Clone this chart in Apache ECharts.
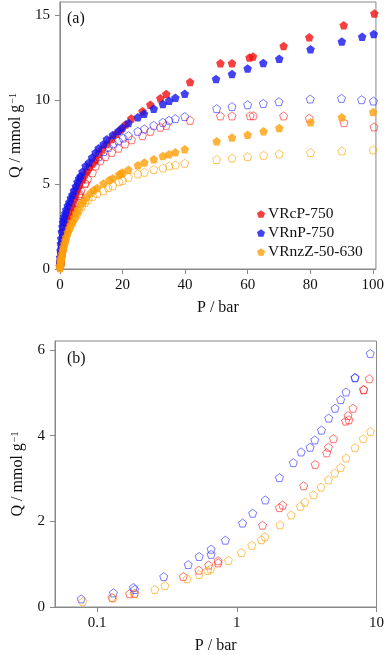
<!DOCTYPE html>
<html>
<head>
<meta charset="utf-8">
<script src="https://cdn.jsdelivr.net/npm/echarts@6/dist/echarts.min.js"></script>
<style>
  html, body { margin: 0; padding: 0; background: #fff; }
  #main { width: 387px; height: 655px; }
</style>
</head>
<body>
<div id="main"></div>
<script>
// pressure (bar), uptake (mmol/g)
var vrcpFilled = [[0.1,0.3],[0.2,0.55],[0.4,0.95],[0.7,1.4],[1.0,1.75],[1.5,2.25],[2.0,2.65],[2.5,2.95],[3.0,3.15],[3.5,3.4],[4.0,3.75],[4.6,4.13],[5.1,4.45],[5.6,4.73],[6.2,4.95],[7.2,5.3],[8.0,5.6],[8.7,5.8],[9.5,6.05],[10.4,6.25],[11.4,6.45],[12.4,6.8],[13.5,7.1],[15,7.4],[16.5,7.7],[18,8.0],[19.5,8.25],[21,8.55],[22.8,8.9],[26.4,9.33],[28.9,9.72],[32.1,10.1],[34.0,10.35],[41.6,11.06],[51.3,12.17],[55.0,12.17],[60.6,12.52],[61.7,12.58],[71.5,13.19],[79.7,13.72],[90.7,14.43],[100.5,15.12]];
var vrnpFilled = [[0.02,0.15],[0.05,0.4],[0.1,0.7],[0.2,1.1],[0.3,1.5],[0.4,1.8],[0.6,2.2],[0.8,2.5],[1.0,2.75],[1.2,2.95],[1.4,3.1],[1.7,3.3],[2.0,3.5],[2.5,3.75],[3.0,3.95],[3.5,4.2],[4.0,4.4],[4.5,4.65],[5.1,4.9],[5.6,5.15],[6.1,5.35],[6.6,5.5],[7.2,5.75],[8.2,6.1],[9.3,6.3],[10.3,6.6],[11.4,6.89],[12.4,7.15],[14.0,7.4],[15.0,7.68],[16.9,7.93],[18.7,8.17],[20.0,8.37],[21.9,8.64],[24.9,8.98],[26.9,9.19],[30.0,9.49],[32.9,9.76],[34.9,9.96],[36.9,10.14],[39.9,10.37],[49.9,11.24],[55.0,11.54],[60.0,11.87],[65.0,12.19],[70.1,12.44],[80.1,13.01],[90.1,13.46],[96.6,13.74],[100.3,13.9]];
var vrnzFilled = [[0.02,0.05],[0.05,0.12],[0.1,0.2],[0.2,0.38],[0.3,0.5],[0.4,0.62],[0.5,0.72],[0.7,0.92],[0.9,1.1],[1.1,1.28],[1.4,1.5],[1.7,1.7],[2.0,1.9],[2.5,2.17],[3.0,2.4],[3.5,2.6],[4.0,2.8],[4.6,3.05],[5.2,3.3],[5.8,3.5],[6.7,3.84],[7.5,4.0],[8.5,4.25],[9.8,4.5],[10.8,4.67],[11.9,4.8],[13.9,5.06],[15.8,5.26],[16.9,5.37],[18.9,5.57],[19.4,5.63],[20.0,5.71],[21.9,5.87],[24.9,6.14],[27.0,6.3],[30.0,6.5],[32.9,6.69],[34.9,6.79],[36.9,6.91],[39.9,7.09],[50.1,7.56],[55.0,7.78],[60.0,7.95],[65.1,8.15],[70.1,8.35],[80.1,8.68],[90.1,8.98],[100.1,9.29]];

var vrcpOpen = [[0.128,0.22],[0.171,0.31],[0.186,0.32],[0.414,0.71],[0.535,0.86],[0.63,0.98],[0.735,1.08],[0.735,1.03],[1.53,1.91],[2.02,2.32],[2.13,2.38],[3.01,2.83],[3.64,3.33],[4.40,3.60],[4.53,3.73],[4.92,3.93],[6.01,4.34],[6.25,4.47],[6.35,4.37],[6.79,4.64],[8.08,5.08],[8.1,5.07],[8.87,5.33],[10.4,5.7],[11.4,6.1],[12.9,6.4],[14.5,6.65],[16.6,6.9],[18.7,7.15],[20.8,7.4],[22.9,7.65],[26.4,7.89],[28.9,8.15],[32.1,8.39],[34.0,8.5],[41.6,8.8],[51.3,9.06],[55.0,9.06],[60.8,9.07],[61.8,9.07],[71.5,9.06],[79.7,8.92],[90.8,8.66],[100.4,8.41]];
var vrnpOpen = [[0.077,0.19],[0.131,0.33],[0.182,0.455],[0.186,0.41],[0.30,0.71],[0.449,0.99],[0.538,1.18],[0.655,1.35],[0.655,1.23],[0.828,1.56],[1.10,1.96],[1.30,2.19],[1.60,2.50],[2.02,3.02],[2.54,3.37],[2.89,3.62],[3.35,3.73],[3.62,3.90],[4.04,4.13],[4.55,4.41],[5.05,4.64],[5.54,4.84],[6.05,5.02],[7.01,5.35],[7.03,5.36],[9.02,5.92],[10.8,6.35],[12.4,6.65],[14.0,6.95],[15.5,7.2],[17.1,7.4],[18.7,7.58],[20.2,7.75],[21.9,7.89],[24.9,8.15],[27.0,8.29],[30.0,8.5],[32.9,8.68],[34.9,8.8],[36.9,8.9],[39.9,9.02],[50.1,9.49],[55.0,9.61],[60.0,9.72],[65.0,9.8],[70.0,9.9],[80.0,10.06],[90.0,10.1],[96.4,10.02],[100.2,9.94]];
var vrnzOpen = [[0.079,0.13],[0.130,0.21],[0.184,0.31],[0.259,0.41],[0.306,0.50],[0.442,0.66],[0.538,0.76],[0.619,0.85],[0.65,0.89],[0.871,1.09],[1.08,1.27],[1.28,1.44],[1.50,1.57],[1.59,1.64],[2.04,1.92],[2.45,2.15],[2.85,2.35],[3.07,2.45],[3.54,2.62],[4.01,2.80],[4.53,2.97],[5.02,3.13],[5.54,3.26],[6.05,3.48],[7.01,3.72],[8.04,3.93],[9.06,4.10],[10.5,4.3],[11.9,4.47],[13.9,4.63],[15.4,4.82],[16.9,4.92],[18.9,5.16],[20.0,5.24],[21.9,5.43],[24.9,5.63],[27.0,5.73],[30.0,5.89],[32.9,5.98],[34.9,6.1],[36.9,6.16],[39.9,6.26],[50.1,6.48],[55.0,6.56],[60.0,6.65],[65.1,6.73],[70.1,6.81],[80.1,6.89],[90.1,6.99],[100.1,7.05]];

var names = ['VRcP-750', 'VRnP-750', 'VRnzZ-50-630'];
var colors = ['#f21010', '#1414ee', '#ffa00a'];
var openColors = ['rgba(255,20,20,0.75)', 'rgba(20,20,255,0.7)', 'rgba(255,160,0,0.8)'];
var xTicksA = [0, 20, 40, 60, 80, 100];
var yTicksA = [0, 5, 10, 15];
var xTicksB = [0.1, 1, 10];
var yTicksB = [0, 2, 4, 6];

var pent = 'path://M0,-10 L9.51,-3.09 L5.88,8.09 L-5.88,8.09 L-9.51,-3.09 Z';
var font = '"Liberation Serif", "DejaVu Serif", serif';
var frame = '#888';

var myChart = echarts.init(document.getElementById('main'));

function axisCommon() {
    return {
        axisLine: { show: true, lineStyle: { color: frame, width: 1 } },
        axisTick: { show: true, length: 5, lineStyle: { color: frame } },
        splitLine: { show: false },
        nameTextStyle: {
            fontFamily: font, fontSize: 16, color: '#111',
            rich: { sup: { fontFamily: font, fontSize: 10, color: '#111', verticalAlign: 'top', padding: [0, 0, 6, 1] } }
        }
    };
}

function xAxis(grid, type, min, max, ticks) {
    var a = axisCommon();
    a.gridIndex = grid;
    a.type = type;
    a.min = min;
    a.max = max;
    if (type === 'log') a.logBase = 10;
    a.name = 'P / bar';
    a.nameLocation = 'middle';
    a.nameGap = 31;
    a.axisTick.customValues = ticks;
    a.axisLabel = { customValues: ticks, fontFamily: font, fontSize: 15, color: '#111', margin: 9 };
    return a;
}

function yAxis(grid, min, max, ticks) {
    var a = axisCommon();
    a.gridIndex = grid;
    a.type = 'value';
    a.min = min;
    a.max = max;
    a.name = 'Q / mmol g{sup|−1}';
    a.nameLocation = 'middle';
    a.nameGap = 29;
    a.axisTick.customValues = ticks;
    a.axisLabel = { customValues: ticks, fontFamily: font, fontSize: 15, color: '#111', margin: 10 };
    return a;
}

var filled = [vrcpFilled, vrnpFilled, vrnzFilled];
var open = [vrcpOpen, vrnpOpen, vrnzOpen];
var series = [];
for (var i = 0; i < 3; i++) {
    series.push({
        name: names[i] + ' open', type: 'scatter', xAxisIndex: 0, yAxisIndex: 0,
        symbol: pent, symbolSize: 8, data: open[i],
        itemStyle: { color: 'rgba(255,255,255,0)', borderColor: openColors[i], borderWidth: 1 }
    });
}
for (var i = 0; i < 3; i++) {
    series.push({
        name: names[i], type: 'scatter', xAxisIndex: 0, yAxisIndex: 0,
        symbol: pent, symbolSize: 8.5, data: filled[i],
        itemStyle: { color: colors[i] }
    });
}
for (var i = 0; i < 3; i++) {
    series.push({
        name: names[i] + ' log', type: 'scatter', xAxisIndex: 1, yAxisIndex: 1,
        symbol: pent, symbolSize: 8, data: open[i],
        itemStyle: { color: 'rgba(255,255,255,0)', borderColor: openColors[i], borderWidth: 1 }
    });
}

var option = {
    animation: false,
    backgroundColor: '#fff',
    grid: [
        { left: 55, top: 2, width: 322, height: 267, show: true, borderColor: frame, borderWidth: 1 },
        { left: 55, top: 341, width: 322, height: 268, show: true, borderColor: frame, borderWidth: 1 }
    ],
    xAxis: [
        xAxis(0, 'value', 0, 101, xTicksA),
        xAxis(1, 'log', 0.05, 10, xTicksB)
    ],
    yAxis: [
        yAxis(0, 0, 15.8, yTicksA),
        yAxis(1, 0, 6.21, yTicksB)
    ],
    legend: {
        data: names,
        orient: 'vertical',
        left: 252, top: 201,
        icon: pent,
        itemWidth: 8, itemHeight: 8, itemGap: 3,
        textStyle: { fontFamily: font, fontSize: 15.5, color: '#111', padding: [0, 0, 0, -2] }
    },
    graphic: [
        { type: 'text', left: 67, top: 11, style: { text: '(a)', font: '16px "Liberation Serif"', fill: '#111' } },
        { type: 'text', left: 67, top: 351, style: { text: '(b)', font: '16px "Liberation Serif"', fill: '#111' } }
    ],
    series: series
};

myChart.setOption(option);
</script>
</body>
</html>
